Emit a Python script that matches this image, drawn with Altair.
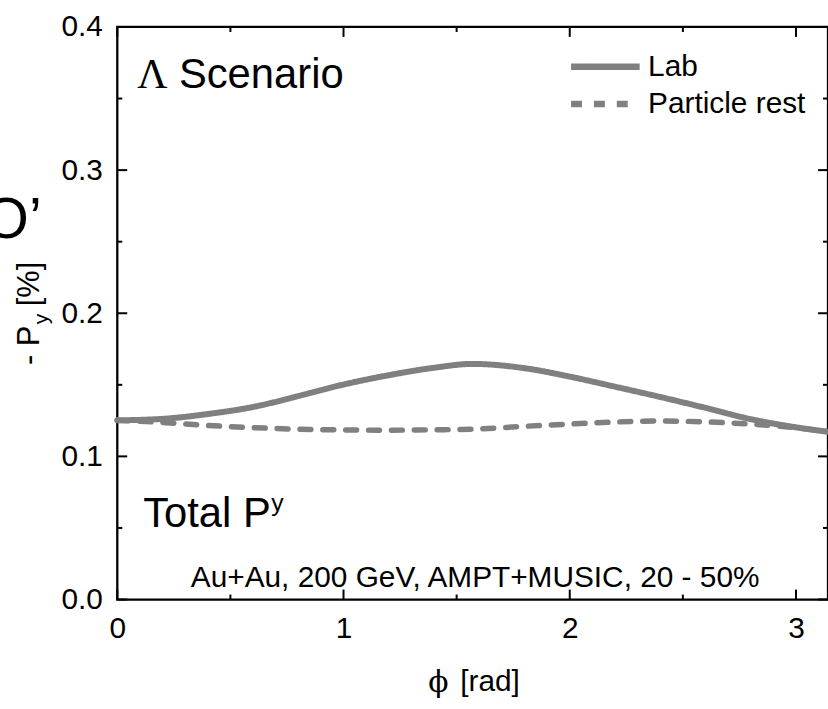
import altair as alt
import pandas as pd

# ---------------- data ----------------
phi = [0.0, 0.2, 0.4, 0.6, 0.8, 1.0, 1.2, 1.4, 1.57, 1.8, 2.0, 2.2, 2.4, 2.6, 2.8, 3.0, 3.1416]
lab = [0.1252, 0.1262, 0.1296, 0.1345, 0.1421, 0.1502, 0.1567, 0.1619, 0.1646,
       0.1616, 0.1557, 0.1487, 0.1415, 0.1339, 0.1260, 0.1203, 0.1172]
rest = [0.1252, 0.1237, 0.1216, 0.1201, 0.1190, 0.1185, 0.1183, 0.1186, 0.1190,
        0.1210, 0.1226, 0.1240, 0.1247, 0.1241, 0.1225, 0.1200, 0.1172]
series_names = ["Lab", "Particle rest"]

x_major = [0, 1, 2, 3]
x_minor = [0.5, 1.5, 2.5]
y_major = [0.0, 0.1, 0.2, 0.3, 0.4]
y_minor = [0.05, 0.15, 0.25, 0.35]

txt_scenario = "Scenario"
txt_lambda = "\u039b"
txt_total = "Total P"
txt_sup = "y"
txt_info = "Au+Au, 200 GeV, AMPT+MUSIC, 20 - 50%"
txt_phi = "\u03d5"
txt_rad = "[rad]"
txt_ytitle_a = "- P"
txt_ytitle_sub = "y"
txt_ytitle_b = "[%]"
txt_fragment = "O\u2019"

# ---------------- styling ----------------
W, H = 715, 576
GRAY = "#808080"
FONT = "Liberation Sans"
SERIF = "Liberation Serif"
FS = 30

n = len(phi)
df = pd.DataFrame({
    "phi": phi + phi,
    "val": lab + rest,
    "frame": [series_names[0]] * n + [series_names[1]] * n,
})

xs = alt.Scale(domain=[0, 3.14159], nice=False, zero=False)
ys = alt.Scale(domain=[0, 0.4], nice=False, zero=False)
dash_scale = alt.Scale(domain=series_names, range=[[1, 0], [11, 12]])

x_axis = alt.Axis(values=x_major, format="d", title=None, domain=False, ticks=False,
                  tickSize=0, grid=False, labelFont=FONT, labelFontSize=FS,
                  labelColor="black", labelPadding=14, labelFlush=False, labelOverlap=False)
y_axis = alt.Axis(values=y_major, format=".1f", title=None, domain=False, ticks=False,
                  tickSize=0, grid=False, labelFont=FONT, labelFontSize=FS,
                  labelColor="black", labelPadding=15, labelOverlap=False)

legend = alt.Legend(title=None, orient="none", legendX=476, legendY=25,
                    symbolType="M-3,0H3", symbolSize=529, symbolStrokeWidth=6.5,
                    symbolStrokeColor=GRAY, labelFont=FONT, labelFontSize=FS,
                    labelColor="black", labelOffset=28, rowPadding=7.5, padding=0,
                    labelLimit=400)

base = alt.Chart(df).encode(
    x=alt.X("phi:Q", scale=xs, axis=x_axis),
    y=alt.Y("val:Q", scale=ys, axis=y_axis),
    strokeDash=alt.StrokeDash("frame:N", scale=dash_scale, legend=legend),
)
rest_line = base.transform_filter(alt.datum.frame == series_names[1]).mark_line(
    color=GRAY, strokeWidth=5.5, strokeCap="round", interpolate="monotone")
lab_line = base.transform_filter(alt.datum.frame == series_names[0]).mark_line(
    color=GRAY, strokeWidth=6, strokeCap="round", interpolate="monotone")


def xticks(vals, length):
    c = alt.Chart(pd.DataFrame({"t": vals})).mark_rule(color="black", strokeWidth=2)
    bottom = c.encode(x=alt.X("t:Q", scale=xs, axis=x_axis), y=alt.value(H), y2=alt.value(H - length))
    top = c.encode(x=alt.X("t:Q", scale=xs, axis=x_axis), y=alt.value(0), y2=alt.value(length))
    return [bottom, top]


def yticks(vals, length):
    c = alt.Chart(pd.DataFrame({"t": vals})).mark_rule(color="black", strokeWidth=2)
    left = c.encode(y=alt.Y("t:Q", scale=ys, axis=y_axis), x=alt.value(0), x2=alt.value(length))
    right = c.encode(y=alt.Y("t:Q", scale=ys, axis=y_axis), x=alt.value(W), x2=alt.value(W - length))
    return [left, right]


def label(s, x, y, size, font=FONT, align="left", angle=None):
    kw = dict(align=align, baseline="alphabetic", font=font, fontSize=size, color="black")
    if angle is not None:
        kw["angle"] = angle
    return alt.Chart(pd.DataFrame({"s": [s]})).mark_text(**kw).encode(
        text="s:N", x=alt.value(x), y=alt.value(y))


texts = [
    label(txt_lambda, 20, 61, 42, font=SERIF),
    label(txt_scenario, 62, 61, 42),
    label(txt_total, 26, 503, 42),
    label(txt_sup, 155, 487, 25),
    label(txt_info, 360, 563, FS, align="center"),
    label(txt_phi, 323, 669, 30, font="DejaVu Serif", align="center"),
    label(txt_rad, 345, 668, FS),
    label(txt_ytitle_a, -79, 340, 31, angle=270),
    label(txt_ytitle_sub, -70, 299, 21, angle=270),
    label(txt_ytitle_b, -79, 281, 31, angle=270),
    label(txt_fragment, -76, 212, 58, align="right"),
]

layers = ([rest_line, lab_line]
          + xticks(x_major, 10) + xticks(x_minor, 5) + yticks(y_major, 10) + yticks(y_minor, 5)
          + texts)

chart = alt.layer(*layers).properties(
    width=W, height=H,
    padding={"left": 118, "top": 25, "right": 0, "bottom": 108},
    autosize=alt.AutoSizeParams(type="none"),
    background="white",
).configure_view(stroke="black", strokeWidth=2.3)

chart.save("out.html", embed_options={"renderer": "svg", "actions": False})
